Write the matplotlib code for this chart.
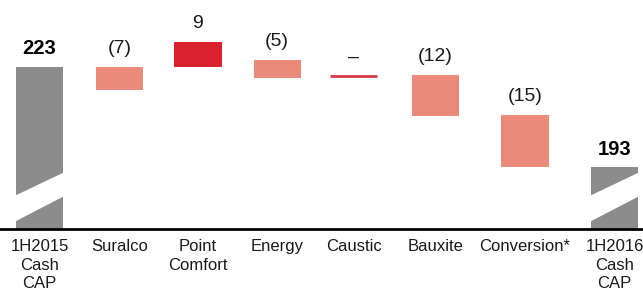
import numpy as np
import matplotlib
matplotlib.use("Agg")
import matplotlib.pyplot as plt
from matplotlib.patches import Polygon

# data
categories = ["1H2015\nCash\nCAP", "Suralco", "Point\nComfort", "Energy",
              "Caustic", "Bauxite", "Conversion*", "1H2016\nCash\nCAP"]
start_value = 223
end_value = 193
step_labels = ["(7)", "9", "(5)", "\u2013", "(12)", "(15)"]
step_low = [216.0, 223.0, 219.5, 220.3, 208.2, 193.0]
step_high = [223.0, 230.4, 225.0, 220.3, 220.5, 208.5]
step_colors = ["#E98A7B", "#D8222E", "#E98A7B", "#D63A45", "#E98A7B", "#E98A7B"]

# layout: slot centres (the original spacing is not uniform)
x_pos = [0, 1.0, 1.98, 2.97, 3.93, 4.95, 6.07, 7.19]
bar_w = 0.59
y_min, y_max = 174.5, 242.85

plt.rcParams["font.family"] = ["Liberation Sans", "DejaVu Sans"]

fig = plt.figure(figsize=(6.43, 2.95), dpi=100)
ax = fig.add_axes([0, 66 / 295, 1, 229 / 295])
ax.set_xlim(-0.494, 7.544)
ax.set_ylim(y_min, y_max)

gray = "#8C8C8C"
txt = "#1A1A1A"

# start / end totals with a broken-axis stripe
for x, val in [(x_pos[0], start_value), (x_pos[-1], end_value)]:
    ax.bar(x, val - y_min, bottom=y_min, width=bar_w, color=gray, zorder=2)
    l, r = x - bar_w / 2 - 0.02, x + bar_w / 2 + 0.02
    stripe = Polygon([(l, y_min + 2.1), (r, y_min + 9.9),
                      (r, y_min + 17.0), (l, y_min + 9.85)],
                     closed=True, facecolor="white", edgecolor="none", zorder=3)
    ax.add_patch(stripe)
    ax.annotate(str(val), (x, val), xytext=(0, 6), textcoords="offset points",
                ha="center", va="bottom", fontsize=14.5, fontweight="bold",
                color="black")

# steps
for i, (lo, hi) in enumerate(zip(step_low, step_high)):
    x = x_pos[i + 1]
    if hi - lo < 0.5:
        ax.hlines(hi, x - bar_w / 2, x + bar_w / 2, color=step_colors[i],
                  linewidth=2, zorder=2)
    else:
        ax.bar(x, hi - lo, bottom=lo, width=bar_w, color=step_colors[i],
               zorder=2)
    ax.annotate(step_labels[i], (x, hi), xytext=(0, 7),
                textcoords="offset points", ha="center", va="bottom",
                fontsize=14, color=txt)

ax.set_xticks(x_pos)
ax.set_xticklabels(categories, fontsize=12, color=txt, linespacing=1.32)
ax.tick_params(axis="x", length=0, pad=7)
ax.set_yticks([])
for s in ["top", "left", "right"]:
    ax.spines[s].set_visible(False)
ax.spines["bottom"].set_linewidth(2)
ax.spines["bottom"].set_color("black")

fig.savefig("out.png", dpi=100)
